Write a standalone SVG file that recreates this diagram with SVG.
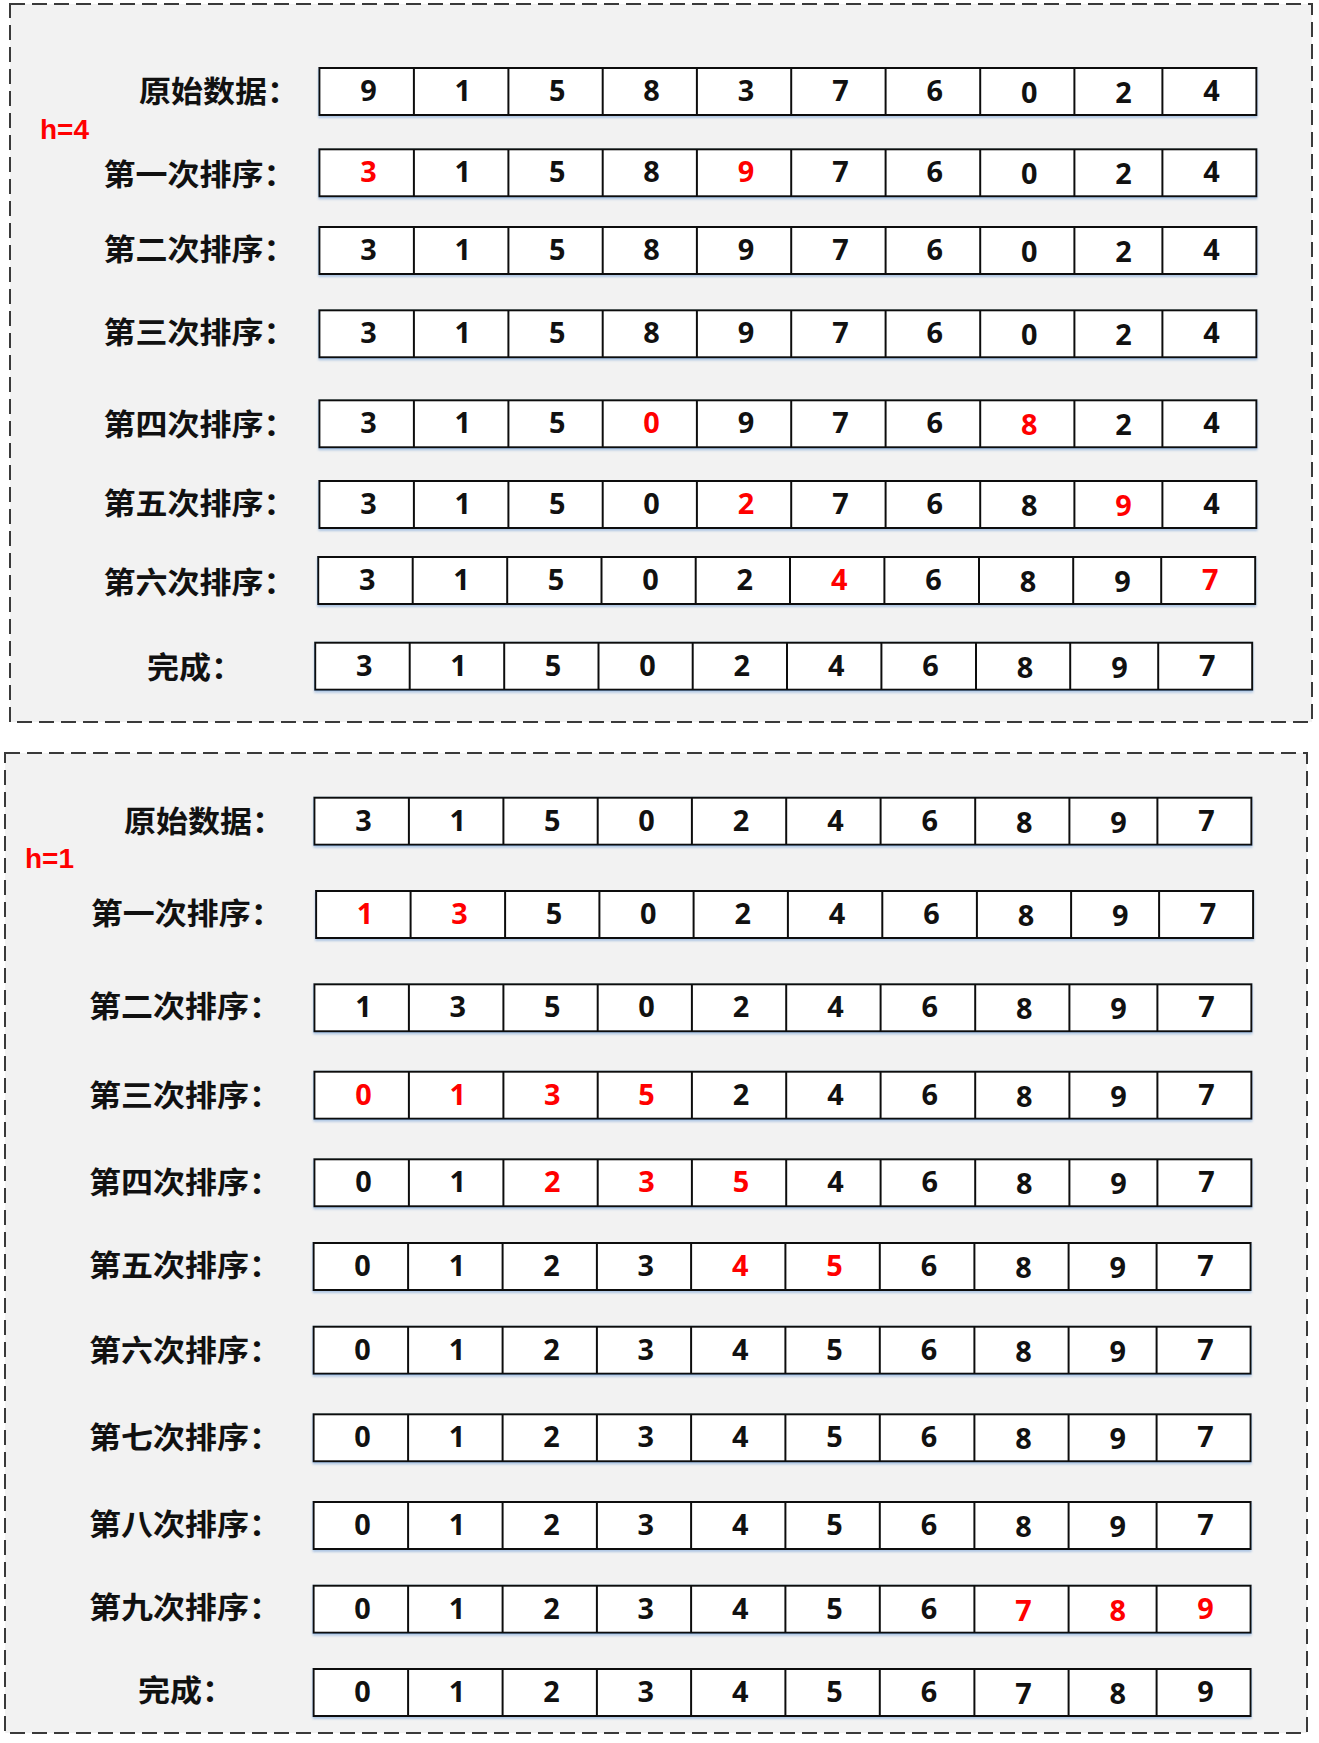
<svg xmlns="http://www.w3.org/2000/svg" xmlns:xlink="http://www.w3.org/1999/xlink" width="1319" height="1743" viewBox="0 0 1319 1743">
<style>
.box{fill:#f2f2f2;stroke:#3a3a3a;stroke-width:2;stroke-dasharray:15 7}
.cell{fill:#fff;stroke:#111;stroke-width:2}
.div{fill:none;stroke:#111;stroke-width:2}
.d{font-family:"Open Sans","Liberation Sans",Arial,sans-serif;font-weight:700;font-size:28px;text-anchor:middle;fill:#111}
.r{fill:#ff0000}
.lb{font-family:"Noto Sans CJK SC","Noto Sans",sans-serif;font-weight:700;font-size:30px;fill:#111}
.h{font-family:"Liberation Sans",Arial,sans-serif;font-weight:700;font-size:28px;fill:#ff0000}
</style>
<defs>
<filter id="sh" x="-2%" y="-20%" width="104%" height="150%">
<feDropShadow dx="0" dy="2" stdDeviation="1.2" flood-color="#5b8fd0" flood-opacity="0.45"/>
</filter>
<g id="row">
<rect class="cell" x="0" y="0" width="937" height="47"/>
<path class="div" d="M94.5 0v47M189 0v47M283.3 0v47M377.5 0v47M471.8 0v47M566.2 0v47M660.8 0v47M755 0v47M843 0v47"/>
</g>
</defs>

<g id="frame-h4">
<rect class="box" x="10" y="4" width="1302" height="718"/>
<text class="h" x="40" y="139.3">h=4</text>
</g>
<g id="frame-h1">
<rect class="box" x="5" y="753" width="1302" height="980"/>
<text class="h" x="25" y="868.3">h=1</text>
</g>

<g id="connectors"></g>

<!-- h=4 block -->
<g id="t0">
<text class="lb" x="139" y="102.4" textLength="160" lengthAdjust="spacingAndGlyphs">原始数据：</text>
<use href="#row" x="319.4" y="68" filter="url(#sh)"/>
<text class="d" x="368.4" y="101" textLength="16.5" lengthAdjust="spacingAndGlyphs">9</text>
<text class="d" x="462.8" y="101" textLength="16.5" lengthAdjust="spacingAndGlyphs">1</text>
<text class="d" x="557.2" y="101" textLength="16.5" lengthAdjust="spacingAndGlyphs">5</text>
<text class="d" x="651.6" y="101" textLength="16.5" lengthAdjust="spacingAndGlyphs">8</text>
<text class="d" x="746" y="101" textLength="16.5" lengthAdjust="spacingAndGlyphs">3</text>
<text class="d" x="840.4" y="101" textLength="16.5" lengthAdjust="spacingAndGlyphs">7</text>
<text class="d" x="934.8" y="101" textLength="16.5" lengthAdjust="spacingAndGlyphs">6</text>
<text class="d" x="1029.2" y="103" textLength="16.5" lengthAdjust="spacingAndGlyphs">0</text>
<text class="d" x="1123.6" y="103" textLength="16.5" lengthAdjust="spacingAndGlyphs">2</text>
<text class="d" x="1211.4" y="101" textLength="16.5" lengthAdjust="spacingAndGlyphs">4</text>
</g>

<g id="t1">
<text class="lb" x="103.4" y="184.9" textLength="192" lengthAdjust="spacingAndGlyphs">第一次排序：</text>
<use href="#row" x="319.4" y="149.3" filter="url(#sh)"/>
<text class="d r" x="368.4" y="182.3" textLength="16.5" lengthAdjust="spacingAndGlyphs">3</text>
<text class="d" x="462.8" y="182.3" textLength="16.5" lengthAdjust="spacingAndGlyphs">1</text>
<text class="d" x="557.2" y="182.3" textLength="16.5" lengthAdjust="spacingAndGlyphs">5</text>
<text class="d" x="651.6" y="182.3" textLength="16.5" lengthAdjust="spacingAndGlyphs">8</text>
<text class="d r" x="746" y="182.3" textLength="16.5" lengthAdjust="spacingAndGlyphs">9</text>
<text class="d" x="840.4" y="182.3" textLength="16.5" lengthAdjust="spacingAndGlyphs">7</text>
<text class="d" x="934.8" y="182.3" textLength="16.5" lengthAdjust="spacingAndGlyphs">6</text>
<text class="d" x="1029.2" y="184.3" textLength="16.5" lengthAdjust="spacingAndGlyphs">0</text>
<text class="d" x="1123.6" y="184.3" textLength="16.5" lengthAdjust="spacingAndGlyphs">2</text>
<text class="d" x="1211.4" y="182.3" textLength="16.5" lengthAdjust="spacingAndGlyphs">4</text>
</g>

<g id="t2">
<text class="lb" x="103.4" y="260.4" textLength="192" lengthAdjust="spacingAndGlyphs">第二次排序：</text>
<use href="#row" x="319.4" y="227" filter="url(#sh)"/>
<text class="d" x="368.4" y="260" textLength="16.5" lengthAdjust="spacingAndGlyphs">3</text>
<text class="d" x="462.8" y="260" textLength="16.5" lengthAdjust="spacingAndGlyphs">1</text>
<text class="d" x="557.2" y="260" textLength="16.5" lengthAdjust="spacingAndGlyphs">5</text>
<text class="d" x="651.6" y="260" textLength="16.5" lengthAdjust="spacingAndGlyphs">8</text>
<text class="d" x="746" y="260" textLength="16.5" lengthAdjust="spacingAndGlyphs">9</text>
<text class="d" x="840.4" y="260" textLength="16.5" lengthAdjust="spacingAndGlyphs">7</text>
<text class="d" x="934.8" y="260" textLength="16.5" lengthAdjust="spacingAndGlyphs">6</text>
<text class="d" x="1029.2" y="262" textLength="16.5" lengthAdjust="spacingAndGlyphs">0</text>
<text class="d" x="1123.6" y="262" textLength="16.5" lengthAdjust="spacingAndGlyphs">2</text>
<text class="d" x="1211.4" y="260" textLength="16.5" lengthAdjust="spacingAndGlyphs">4</text>
</g>

<g id="t3">
<text class="lb" x="103.4" y="342.7" textLength="192" lengthAdjust="spacingAndGlyphs">第三次排序：</text>
<use href="#row" x="319.4" y="310.3" filter="url(#sh)"/>
<text class="d" x="368.4" y="343.3" textLength="16.5" lengthAdjust="spacingAndGlyphs">3</text>
<text class="d" x="462.8" y="343.3" textLength="16.5" lengthAdjust="spacingAndGlyphs">1</text>
<text class="d" x="557.2" y="343.3" textLength="16.5" lengthAdjust="spacingAndGlyphs">5</text>
<text class="d" x="651.6" y="343.3" textLength="16.5" lengthAdjust="spacingAndGlyphs">8</text>
<text class="d" x="746" y="343.3" textLength="16.5" lengthAdjust="spacingAndGlyphs">9</text>
<text class="d" x="840.4" y="343.3" textLength="16.5" lengthAdjust="spacingAndGlyphs">7</text>
<text class="d" x="934.8" y="343.3" textLength="16.5" lengthAdjust="spacingAndGlyphs">6</text>
<text class="d" x="1029.2" y="345.3" textLength="16.5" lengthAdjust="spacingAndGlyphs">0</text>
<text class="d" x="1123.6" y="345.3" textLength="16.5" lengthAdjust="spacingAndGlyphs">2</text>
<text class="d" x="1211.4" y="343.3" textLength="16.5" lengthAdjust="spacingAndGlyphs">4</text>
</g>

<g id="t4">
<text class="lb" x="103.4" y="434.7" textLength="192" lengthAdjust="spacingAndGlyphs">第四次排序：</text>
<use href="#row" x="319.4" y="400.3" filter="url(#sh)"/>
<text class="d" x="368.4" y="433.3" textLength="16.5" lengthAdjust="spacingAndGlyphs">3</text>
<text class="d" x="462.8" y="433.3" textLength="16.5" lengthAdjust="spacingAndGlyphs">1</text>
<text class="d" x="557.2" y="433.3" textLength="16.5" lengthAdjust="spacingAndGlyphs">5</text>
<text class="d r" x="651.6" y="433.3" textLength="16.5" lengthAdjust="spacingAndGlyphs">0</text>
<text class="d" x="746" y="433.3" textLength="16.5" lengthAdjust="spacingAndGlyphs">9</text>
<text class="d" x="840.4" y="433.3" textLength="16.5" lengthAdjust="spacingAndGlyphs">7</text>
<text class="d" x="934.8" y="433.3" textLength="16.5" lengthAdjust="spacingAndGlyphs">6</text>
<text class="d r" x="1029.2" y="435.3" textLength="16.5" lengthAdjust="spacingAndGlyphs">8</text>
<text class="d" x="1123.6" y="435.3" textLength="16.5" lengthAdjust="spacingAndGlyphs">2</text>
<text class="d" x="1211.4" y="433.3" textLength="16.5" lengthAdjust="spacingAndGlyphs">4</text>
</g>

<g id="t5">
<text class="lb" x="103.4" y="514.2" textLength="192" lengthAdjust="spacingAndGlyphs">第五次排序：</text>
<use href="#row" x="319.4" y="481" filter="url(#sh)"/>
<text class="d" x="368.4" y="514" textLength="16.5" lengthAdjust="spacingAndGlyphs">3</text>
<text class="d" x="462.8" y="514" textLength="16.5" lengthAdjust="spacingAndGlyphs">1</text>
<text class="d" x="557.2" y="514" textLength="16.5" lengthAdjust="spacingAndGlyphs">5</text>
<text class="d" x="651.6" y="514" textLength="16.5" lengthAdjust="spacingAndGlyphs">0</text>
<text class="d r" x="746" y="514" textLength="16.5" lengthAdjust="spacingAndGlyphs">2</text>
<text class="d" x="840.4" y="514" textLength="16.5" lengthAdjust="spacingAndGlyphs">7</text>
<text class="d" x="934.8" y="514" textLength="16.5" lengthAdjust="spacingAndGlyphs">6</text>
<text class="d" x="1029.2" y="516" textLength="16.5" lengthAdjust="spacingAndGlyphs">8</text>
<text class="d r" x="1123.6" y="516" textLength="16.5" lengthAdjust="spacingAndGlyphs">9</text>
<text class="d" x="1211.4" y="514" textLength="16.5" lengthAdjust="spacingAndGlyphs">4</text>
</g>

<g id="t6">
<text class="lb" x="103.4" y="593.1" textLength="192" lengthAdjust="spacingAndGlyphs">第六次排序：</text>
<use href="#row" x="318.2" y="557" filter="url(#sh)"/>
<text class="d" x="367.2" y="590" textLength="16.5" lengthAdjust="spacingAndGlyphs">3</text>
<text class="d" x="461.6" y="590" textLength="16.5" lengthAdjust="spacingAndGlyphs">1</text>
<text class="d" x="556" y="590" textLength="16.5" lengthAdjust="spacingAndGlyphs">5</text>
<text class="d" x="650.4" y="590" textLength="16.5" lengthAdjust="spacingAndGlyphs">0</text>
<text class="d" x="744.8" y="590" textLength="16.5" lengthAdjust="spacingAndGlyphs">2</text>
<text class="d r" x="839.2" y="590" textLength="16.5" lengthAdjust="spacingAndGlyphs">4</text>
<text class="d" x="933.6" y="590" textLength="16.5" lengthAdjust="spacingAndGlyphs">6</text>
<text class="d" x="1028" y="592" textLength="16.5" lengthAdjust="spacingAndGlyphs">8</text>
<text class="d" x="1122.4" y="592" textLength="16.5" lengthAdjust="spacingAndGlyphs">9</text>
<text class="d r" x="1210.2" y="590" textLength="16.5" lengthAdjust="spacingAndGlyphs">7</text>
</g>

<g id="t7">
<text class="lb" x="147" y="678.1" textLength="96" lengthAdjust="spacingAndGlyphs">完成：</text>
<use href="#row" x="315.2" y="642.7" filter="url(#sh)"/>
<text class="d" x="364.2" y="675.7" textLength="16.5" lengthAdjust="spacingAndGlyphs">3</text>
<text class="d" x="458.6" y="675.7" textLength="16.5" lengthAdjust="spacingAndGlyphs">1</text>
<text class="d" x="553" y="675.7" textLength="16.5" lengthAdjust="spacingAndGlyphs">5</text>
<text class="d" x="647.4" y="675.7" textLength="16.5" lengthAdjust="spacingAndGlyphs">0</text>
<text class="d" x="741.8" y="675.7" textLength="16.5" lengthAdjust="spacingAndGlyphs">2</text>
<text class="d" x="836.2" y="675.7" textLength="16.5" lengthAdjust="spacingAndGlyphs">4</text>
<text class="d" x="930.6" y="675.7" textLength="16.5" lengthAdjust="spacingAndGlyphs">6</text>
<text class="d" x="1025" y="677.7" textLength="16.5" lengthAdjust="spacingAndGlyphs">8</text>
<text class="d" x="1119.4" y="677.7" textLength="16.5" lengthAdjust="spacingAndGlyphs">9</text>
<text class="d" x="1207.2" y="675.7" textLength="16.5" lengthAdjust="spacingAndGlyphs">7</text>
</g>

<!-- h=1 block -->
<g id="b0">
<text class="lb" x="124" y="831.7" textLength="160" lengthAdjust="spacingAndGlyphs">原始数据：</text>
<use href="#row" x="314.4" y="797.7" filter="url(#sh)"/>
<text class="d" x="363.4" y="830.7" textLength="16.5" lengthAdjust="spacingAndGlyphs">3</text>
<text class="d" x="457.8" y="830.7" textLength="16.5" lengthAdjust="spacingAndGlyphs">1</text>
<text class="d" x="552.2" y="830.7" textLength="16.5" lengthAdjust="spacingAndGlyphs">5</text>
<text class="d" x="646.6" y="830.7" textLength="16.5" lengthAdjust="spacingAndGlyphs">0</text>
<text class="d" x="741" y="830.7" textLength="16.5" lengthAdjust="spacingAndGlyphs">2</text>
<text class="d" x="835.4" y="830.7" textLength="16.5" lengthAdjust="spacingAndGlyphs">4</text>
<text class="d" x="929.8" y="830.7" textLength="16.5" lengthAdjust="spacingAndGlyphs">6</text>
<text class="d" x="1024.2" y="832.7" textLength="16.5" lengthAdjust="spacingAndGlyphs">8</text>
<text class="d" x="1118.6" y="832.7" textLength="16.5" lengthAdjust="spacingAndGlyphs">9</text>
<text class="d" x="1206.4" y="830.7" textLength="16.5" lengthAdjust="spacingAndGlyphs">7</text>
</g>

<g id="b1">
<text class="lb" x="90.7" y="923.9" textLength="192" lengthAdjust="spacingAndGlyphs">第一次排序：</text>
<use href="#row" x="316.1" y="891" filter="url(#sh)"/>
<text class="d r" x="365.1" y="924" textLength="16.5" lengthAdjust="spacingAndGlyphs">1</text>
<text class="d r" x="459.5" y="924" textLength="16.5" lengthAdjust="spacingAndGlyphs">3</text>
<text class="d" x="553.9" y="924" textLength="16.5" lengthAdjust="spacingAndGlyphs">5</text>
<text class="d" x="648.3" y="924" textLength="16.5" lengthAdjust="spacingAndGlyphs">0</text>
<text class="d" x="742.7" y="924" textLength="16.5" lengthAdjust="spacingAndGlyphs">2</text>
<text class="d" x="837.1" y="924" textLength="16.5" lengthAdjust="spacingAndGlyphs">4</text>
<text class="d" x="931.5" y="924" textLength="16.5" lengthAdjust="spacingAndGlyphs">6</text>
<text class="d" x="1025.9" y="926" textLength="16.5" lengthAdjust="spacingAndGlyphs">8</text>
<text class="d" x="1120.3" y="926" textLength="16.5" lengthAdjust="spacingAndGlyphs">9</text>
<text class="d" x="1208.1" y="924" textLength="16.5" lengthAdjust="spacingAndGlyphs">7</text>
</g>

<g id="b2">
<text class="lb" x="89" y="1017.2" textLength="192" lengthAdjust="spacingAndGlyphs">第二次排序：</text>
<use href="#row" x="314.4" y="984.3" filter="url(#sh)"/>
<text class="d" x="363.4" y="1017.3" textLength="16.5" lengthAdjust="spacingAndGlyphs">1</text>
<text class="d" x="457.8" y="1017.3" textLength="16.5" lengthAdjust="spacingAndGlyphs">3</text>
<text class="d" x="552.2" y="1017.3" textLength="16.5" lengthAdjust="spacingAndGlyphs">5</text>
<text class="d" x="646.6" y="1017.3" textLength="16.5" lengthAdjust="spacingAndGlyphs">0</text>
<text class="d" x="741" y="1017.3" textLength="16.5" lengthAdjust="spacingAndGlyphs">2</text>
<text class="d" x="835.4" y="1017.3" textLength="16.5" lengthAdjust="spacingAndGlyphs">4</text>
<text class="d" x="929.8" y="1017.3" textLength="16.5" lengthAdjust="spacingAndGlyphs">6</text>
<text class="d" x="1024.2" y="1019.3" textLength="16.5" lengthAdjust="spacingAndGlyphs">8</text>
<text class="d" x="1118.6" y="1019.3" textLength="16.5" lengthAdjust="spacingAndGlyphs">9</text>
<text class="d" x="1206.4" y="1017.3" textLength="16.5" lengthAdjust="spacingAndGlyphs">7</text>
</g>

<g id="b3">
<text class="lb" x="89" y="1105.6" textLength="192" lengthAdjust="spacingAndGlyphs">第三次排序：</text>
<use href="#row" x="314.4" y="1071.7" filter="url(#sh)"/>
<text class="d r" x="363.4" y="1104.7" textLength="16.5" lengthAdjust="spacingAndGlyphs">0</text>
<text class="d r" x="457.8" y="1104.7" textLength="16.5" lengthAdjust="spacingAndGlyphs">1</text>
<text class="d r" x="552.2" y="1104.7" textLength="16.5" lengthAdjust="spacingAndGlyphs">3</text>
<text class="d r" x="646.6" y="1104.7" textLength="16.5" lengthAdjust="spacingAndGlyphs">5</text>
<text class="d" x="741" y="1104.7" textLength="16.5" lengthAdjust="spacingAndGlyphs">2</text>
<text class="d" x="835.4" y="1104.7" textLength="16.5" lengthAdjust="spacingAndGlyphs">4</text>
<text class="d" x="929.8" y="1104.7" textLength="16.5" lengthAdjust="spacingAndGlyphs">6</text>
<text class="d" x="1024.2" y="1106.7" textLength="16.5" lengthAdjust="spacingAndGlyphs">8</text>
<text class="d" x="1118.6" y="1106.7" textLength="16.5" lengthAdjust="spacingAndGlyphs">9</text>
<text class="d" x="1206.4" y="1104.7" textLength="16.5" lengthAdjust="spacingAndGlyphs">7</text>
</g>

<g id="b4">
<text class="lb" x="89" y="1192.6" textLength="192" lengthAdjust="spacingAndGlyphs">第四次排序：</text>
<use href="#row" x="314.4" y="1159.3" filter="url(#sh)"/>
<text class="d" x="363.4" y="1192.3" textLength="16.5" lengthAdjust="spacingAndGlyphs">0</text>
<text class="d" x="457.8" y="1192.3" textLength="16.5" lengthAdjust="spacingAndGlyphs">1</text>
<text class="d r" x="552.2" y="1192.3" textLength="16.5" lengthAdjust="spacingAndGlyphs">2</text>
<text class="d r" x="646.6" y="1192.3" textLength="16.5" lengthAdjust="spacingAndGlyphs">3</text>
<text class="d r" x="741" y="1192.3" textLength="16.5" lengthAdjust="spacingAndGlyphs">5</text>
<text class="d" x="835.4" y="1192.3" textLength="16.5" lengthAdjust="spacingAndGlyphs">4</text>
<text class="d" x="929.8" y="1192.3" textLength="16.5" lengthAdjust="spacingAndGlyphs">6</text>
<text class="d" x="1024.2" y="1194.3" textLength="16.5" lengthAdjust="spacingAndGlyphs">8</text>
<text class="d" x="1118.6" y="1194.3" textLength="16.5" lengthAdjust="spacingAndGlyphs">9</text>
<text class="d" x="1206.4" y="1192.3" textLength="16.5" lengthAdjust="spacingAndGlyphs">7</text>
</g>

<g id="b5">
<text class="lb" x="89" y="1276.4" textLength="192" lengthAdjust="spacingAndGlyphs">第五次排序：</text>
<use href="#row" x="313.6" y="1243" filter="url(#sh)"/>
<text class="d" x="362.6" y="1276" textLength="16.5" lengthAdjust="spacingAndGlyphs">0</text>
<text class="d" x="457" y="1276" textLength="16.5" lengthAdjust="spacingAndGlyphs">1</text>
<text class="d" x="551.4" y="1276" textLength="16.5" lengthAdjust="spacingAndGlyphs">2</text>
<text class="d" x="645.8" y="1276" textLength="16.5" lengthAdjust="spacingAndGlyphs">3</text>
<text class="d r" x="740.2" y="1276" textLength="16.5" lengthAdjust="spacingAndGlyphs">4</text>
<text class="d r" x="834.6" y="1276" textLength="16.5" lengthAdjust="spacingAndGlyphs">5</text>
<text class="d" x="929" y="1276" textLength="16.5" lengthAdjust="spacingAndGlyphs">6</text>
<text class="d" x="1023.4" y="1278" textLength="16.5" lengthAdjust="spacingAndGlyphs">8</text>
<text class="d" x="1117.8" y="1278" textLength="16.5" lengthAdjust="spacingAndGlyphs">9</text>
<text class="d" x="1205.6" y="1276" textLength="16.5" lengthAdjust="spacingAndGlyphs">7</text>
</g>

<g id="b6">
<text class="lb" x="89" y="1360.6" textLength="192" lengthAdjust="spacingAndGlyphs">第六次排序：</text>
<use href="#row" x="313.6" y="1326.7" filter="url(#sh)"/>
<text class="d" x="362.6" y="1359.7" textLength="16.5" lengthAdjust="spacingAndGlyphs">0</text>
<text class="d" x="457" y="1359.7" textLength="16.5" lengthAdjust="spacingAndGlyphs">1</text>
<text class="d" x="551.4" y="1359.7" textLength="16.5" lengthAdjust="spacingAndGlyphs">2</text>
<text class="d" x="645.8" y="1359.7" textLength="16.5" lengthAdjust="spacingAndGlyphs">3</text>
<text class="d" x="740.2" y="1359.7" textLength="16.5" lengthAdjust="spacingAndGlyphs">4</text>
<text class="d" x="834.6" y="1359.7" textLength="16.5" lengthAdjust="spacingAndGlyphs">5</text>
<text class="d" x="929" y="1359.7" textLength="16.5" lengthAdjust="spacingAndGlyphs">6</text>
<text class="d" x="1023.4" y="1361.7" textLength="16.5" lengthAdjust="spacingAndGlyphs">8</text>
<text class="d" x="1117.8" y="1361.7" textLength="16.5" lengthAdjust="spacingAndGlyphs">9</text>
<text class="d" x="1205.6" y="1359.7" textLength="16.5" lengthAdjust="spacingAndGlyphs">7</text>
</g>

<g id="b7">
<text class="lb" x="89" y="1447.6" textLength="192" lengthAdjust="spacingAndGlyphs">第七次排序：</text>
<use href="#row" x="313.6" y="1414.3" filter="url(#sh)"/>
<text class="d" x="362.6" y="1447.3" textLength="16.5" lengthAdjust="spacingAndGlyphs">0</text>
<text class="d" x="457" y="1447.3" textLength="16.5" lengthAdjust="spacingAndGlyphs">1</text>
<text class="d" x="551.4" y="1447.3" textLength="16.5" lengthAdjust="spacingAndGlyphs">2</text>
<text class="d" x="645.8" y="1447.3" textLength="16.5" lengthAdjust="spacingAndGlyphs">3</text>
<text class="d" x="740.2" y="1447.3" textLength="16.5" lengthAdjust="spacingAndGlyphs">4</text>
<text class="d" x="834.6" y="1447.3" textLength="16.5" lengthAdjust="spacingAndGlyphs">5</text>
<text class="d" x="929" y="1447.3" textLength="16.5" lengthAdjust="spacingAndGlyphs">6</text>
<text class="d" x="1023.4" y="1449.3" textLength="16.5" lengthAdjust="spacingAndGlyphs">8</text>
<text class="d" x="1117.8" y="1449.3" textLength="16.5" lengthAdjust="spacingAndGlyphs">9</text>
<text class="d" x="1205.6" y="1447.3" textLength="16.5" lengthAdjust="spacingAndGlyphs">7</text>
</g>

<g id="b8">
<text class="lb" x="89" y="1534.7" textLength="192" lengthAdjust="spacingAndGlyphs">第八次排序：</text>
<use href="#row" x="313.6" y="1502" filter="url(#sh)"/>
<text class="d" x="362.6" y="1535" textLength="16.5" lengthAdjust="spacingAndGlyphs">0</text>
<text class="d" x="457" y="1535" textLength="16.5" lengthAdjust="spacingAndGlyphs">1</text>
<text class="d" x="551.4" y="1535" textLength="16.5" lengthAdjust="spacingAndGlyphs">2</text>
<text class="d" x="645.8" y="1535" textLength="16.5" lengthAdjust="spacingAndGlyphs">3</text>
<text class="d" x="740.2" y="1535" textLength="16.5" lengthAdjust="spacingAndGlyphs">4</text>
<text class="d" x="834.6" y="1535" textLength="16.5" lengthAdjust="spacingAndGlyphs">5</text>
<text class="d" x="929" y="1535" textLength="16.5" lengthAdjust="spacingAndGlyphs">6</text>
<text class="d" x="1023.4" y="1537" textLength="16.5" lengthAdjust="spacingAndGlyphs">8</text>
<text class="d" x="1117.8" y="1537" textLength="16.5" lengthAdjust="spacingAndGlyphs">9</text>
<text class="d" x="1205.6" y="1535" textLength="16.5" lengthAdjust="spacingAndGlyphs">7</text>
</g>

<g id="b9">
<text class="lb" x="89" y="1617.6" textLength="192" lengthAdjust="spacingAndGlyphs">第九次排序：</text>
<use href="#row" x="313.6" y="1585.7" filter="url(#sh)"/>
<text class="d" x="362.6" y="1618.7" textLength="16.5" lengthAdjust="spacingAndGlyphs">0</text>
<text class="d" x="457" y="1618.7" textLength="16.5" lengthAdjust="spacingAndGlyphs">1</text>
<text class="d" x="551.4" y="1618.7" textLength="16.5" lengthAdjust="spacingAndGlyphs">2</text>
<text class="d" x="645.8" y="1618.7" textLength="16.5" lengthAdjust="spacingAndGlyphs">3</text>
<text class="d" x="740.2" y="1618.7" textLength="16.5" lengthAdjust="spacingAndGlyphs">4</text>
<text class="d" x="834.6" y="1618.7" textLength="16.5" lengthAdjust="spacingAndGlyphs">5</text>
<text class="d" x="929" y="1618.7" textLength="16.5" lengthAdjust="spacingAndGlyphs">6</text>
<text class="d r" x="1023.4" y="1620.7" textLength="16.5" lengthAdjust="spacingAndGlyphs">7</text>
<text class="d r" x="1117.8" y="1620.7" textLength="16.5" lengthAdjust="spacingAndGlyphs">8</text>
<text class="d r" x="1205.6" y="1618.7" textLength="16.5" lengthAdjust="spacingAndGlyphs">9</text>
</g>

<g id="b10">
<text class="lb" x="138" y="1701.4" textLength="96" lengthAdjust="spacingAndGlyphs">完成：</text>
<use href="#row" x="313.6" y="1669" filter="url(#sh)"/>
<text class="d" x="362.6" y="1702" textLength="16.5" lengthAdjust="spacingAndGlyphs">0</text>
<text class="d" x="457" y="1702" textLength="16.5" lengthAdjust="spacingAndGlyphs">1</text>
<text class="d" x="551.4" y="1702" textLength="16.5" lengthAdjust="spacingAndGlyphs">2</text>
<text class="d" x="645.8" y="1702" textLength="16.5" lengthAdjust="spacingAndGlyphs">3</text>
<text class="d" x="740.2" y="1702" textLength="16.5" lengthAdjust="spacingAndGlyphs">4</text>
<text class="d" x="834.6" y="1702" textLength="16.5" lengthAdjust="spacingAndGlyphs">5</text>
<text class="d" x="929" y="1702" textLength="16.5" lengthAdjust="spacingAndGlyphs">6</text>
<text class="d" x="1023.4" y="1704" textLength="16.5" lengthAdjust="spacingAndGlyphs">7</text>
<text class="d" x="1117.8" y="1704" textLength="16.5" lengthAdjust="spacingAndGlyphs">8</text>
<text class="d" x="1205.6" y="1702" textLength="16.5" lengthAdjust="spacingAndGlyphs">9</text>
</g>
</svg>
